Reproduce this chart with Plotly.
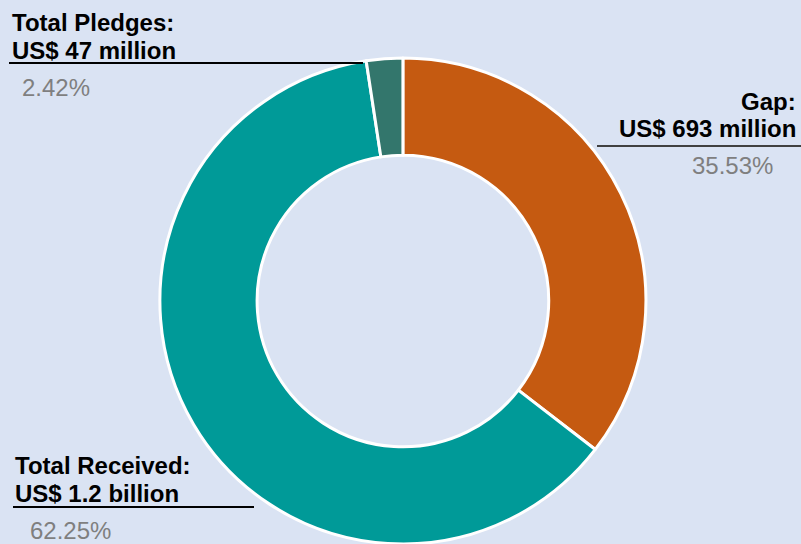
import plotly.graph_objects as go

W, H = 801, 544

categories = ["Gap", "Total Received", "Total Pledges"]
shares = [35.53, 62.25, 2.42]
amounts = ["US$ 693 million", "US$ 1.2 billion", "US$ 47 million"]
colors = ["#C55A11", "#009A98", "#33766C"]
bg = "#DAE3F3"

fig = go.Figure(go.Pie(
    labels=categories, values=shares, sort=False, direction="clockwise",
    rotation=0, hole=0.6, textinfo="none", hoverinfo="label+percent",
    marker=dict(colors=colors, line=dict(color="white", width=3)),
    domain=dict(x=[0.103, 0.903], y=[0.0, 1 - 58 / H]),
    showlegend=False,
))

def px(x):
    return x / W

def py(y):
    return 1 - y / H

ann = []
def txt(s, x, y, anchor, bold=True, color="black"):
    ann.append(dict(text=f"<b>{s}</b>" if bold else s, x=px(x), y=py(y), xref="paper", yref="paper",
                    xanchor=anchor, yanchor="middle", showarrow=False,
                    font=dict(family="Liberation Sans, Arial", size=24, color=color)))

# Total Pledges
txt(categories[2] + ":", 10, 22.5, "left")
txt(amounts[2], 10, 50.5, "left")
txt(f"{shares[2]:.2f}%", 20, 87, "left", bold=False, color="#7F7F7F")
# Gap
txt(categories[0] + ":", 798, 101, "right")
txt(amounts[0], 798, 129, "right")
txt(f"{shares[0]:.2f}%", 775, 165.5, "right", bold=False, color="#7F7F7F")
# Total Received
txt(categories[1] + ":", 13, 465.5, "left")
txt(amounts[1], 13, 493, "left")
txt(f"{shares[1]:.2f}%", 28, 530.5, "left", bold=False, color="#7F7F7F")

shapes = [
    dict(type="line", xref="paper", yref="paper", x0=px(9), x1=px(363), y0=py(63), y1=py(63),
         line=dict(color="black", width=2)),
    dict(type="line", xref="paper", yref="paper", x0=px(597), x1=px(801), y0=py(146), y1=py(146),
         line=dict(color="#404040", width=2)),
    dict(type="line", xref="paper", yref="paper", x0=px(13), x1=px(254), y0=py(507), y1=py(507),
         line=dict(color="black", width=2)),
]

fig.update_layout(
    width=W, height=H, margin=dict(l=0, r=0, t=0, b=0),
    paper_bgcolor=bg, plot_bgcolor=bg,
    annotations=ann, shapes=shapes,
)

fig.write_html("out.html", config={"displayModeBar": False},
               post_script="document.body.style.margin='0';document.body.style.overflow='hidden';")
